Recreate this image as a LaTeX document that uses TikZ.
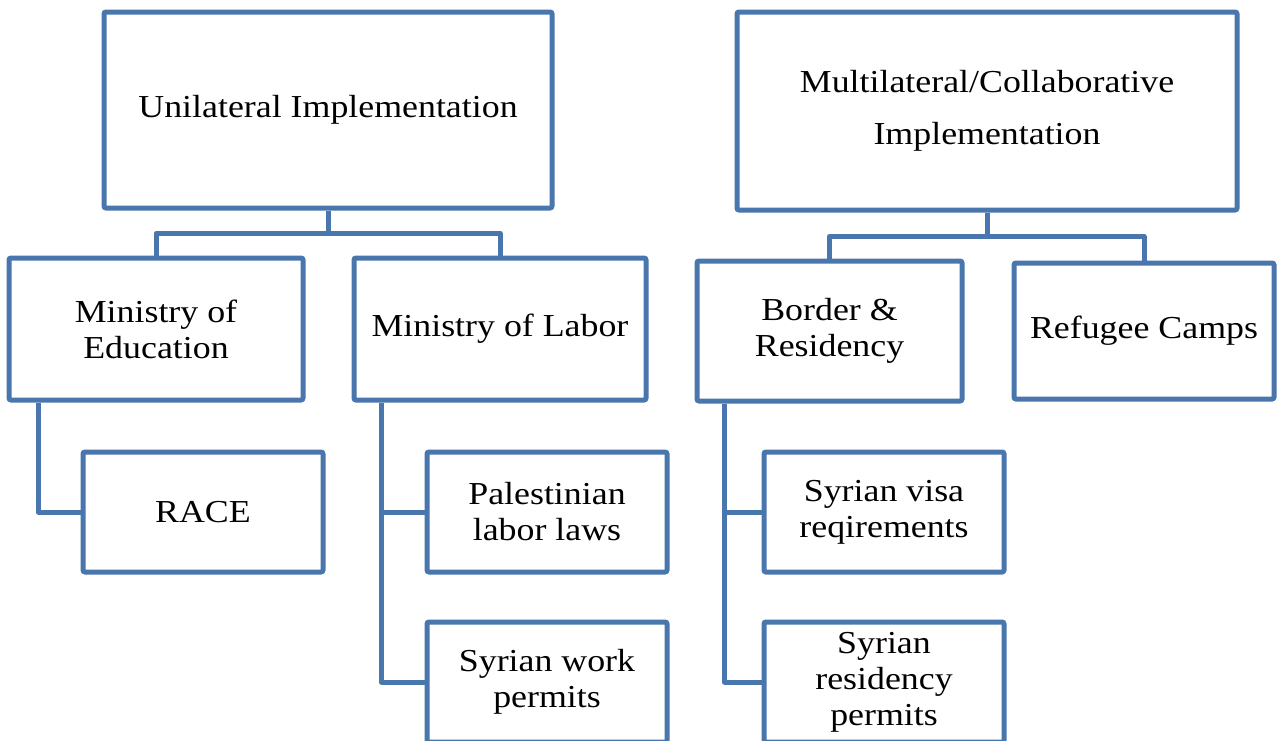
\documentclass[tikz,border=0pt]{standalone}
\usepackage{fontspec}
\setmainfont{Liberation Serif}[FakeStretch=1.12]
\usetikzlibrary{positioning}
\definecolor{boxblue}{RGB}{74,118,174}

\begin{document}
\begin{tikzpicture}[
  x=0.5pt, y=-0.5pt,
  boxstyle/.style={
        draw=boxblue,
        line width=2.5pt,
        rounded corners=1pt,
        rectangle,
        inner sep=0pt,
        align=center,
        font=\fontsize{16}{18}\selectfont
  },
  linkstyle/.style={
        draw=boxblue,
        line width=2.5pt,
        line join=round
  }
]

    \clip (0,0) rectangle (1284,740);

    \node[boxstyle, minimum width=224pt, minimum height=98pt] (Uni) at (328,110) {Unilateral Implementation};
    \node[boxstyle, minimum width=250pt, minimum height=99pt] (Multi) at (987,111) {Multilateral/Collaborative\\[8pt]Implementation};

    \node[boxstyle, minimum width=147pt, minimum height=71pt] (Edu) at (156,329) {Ministry of\\Education};
    \node[boxstyle, minimum width=146pt, minimum height=71pt, right=23pt of Edu] (Labor) {Ministry of Labor};

    \node[boxstyle, minimum width=132.5pt, minimum height=70pt] (Border) at (829.5,331) {Border \&\\Residency};
    \node[boxstyle, minimum width=130pt, minimum height=68pt, right=23.5pt of Border] (Camps) {Refugee Camps};

    \node[boxstyle, minimum width=120pt, minimum height=60pt] (Race) at (203,512) {RACE};
    \node[boxstyle, minimum width=120pt, minimum height=60pt] (Pal) at (547,512) {Palestinian\\labor laws};
    \node[boxstyle, minimum width=120pt, minimum height=60pt, below=22.5pt of Pal] (Work) {Syrian work\\permits};
    \node[boxstyle, minimum width=120pt, minimum height=60pt] (Visa) at (884,512) {Syrian visa\\reqirements};
    \node[boxstyle, minimum width=120pt, minimum height=60pt, below=22.5pt of Visa] (Resid) {Syrian\\residency\\permits};

    \coordinate (EduTrunk) at ([xshift=16pt]Edu.south west);
    \coordinate (LaborTrunk) at ([xshift=15pt]Labor.south west);
    \coordinate (BorderTrunk) at ([xshift=15pt]Border.south west);

    \draw[linkstyle] (Uni.south) -- ++(0,23) -| (Edu.north);
    \draw[linkstyle] (Uni.south) -- ++(0,23) -| (Labor.north);
    \draw[linkstyle] (Multi.south) -- ++(0,24) -| (Border.north);
    \draw[linkstyle] (Multi.south) -- ++(0,24) -| (Camps.north);

    \draw[linkstyle] (EduTrunk) |- (Race.west);
    \draw[linkstyle] (LaborTrunk) |- (Pal.west);
    \draw[linkstyle] (LaborTrunk) |- (Work.west);
    \draw[linkstyle] (BorderTrunk) |- (Visa.west);
    \draw[linkstyle] (BorderTrunk) |- (Resid.west);
\end{tikzpicture}
\end{document}
